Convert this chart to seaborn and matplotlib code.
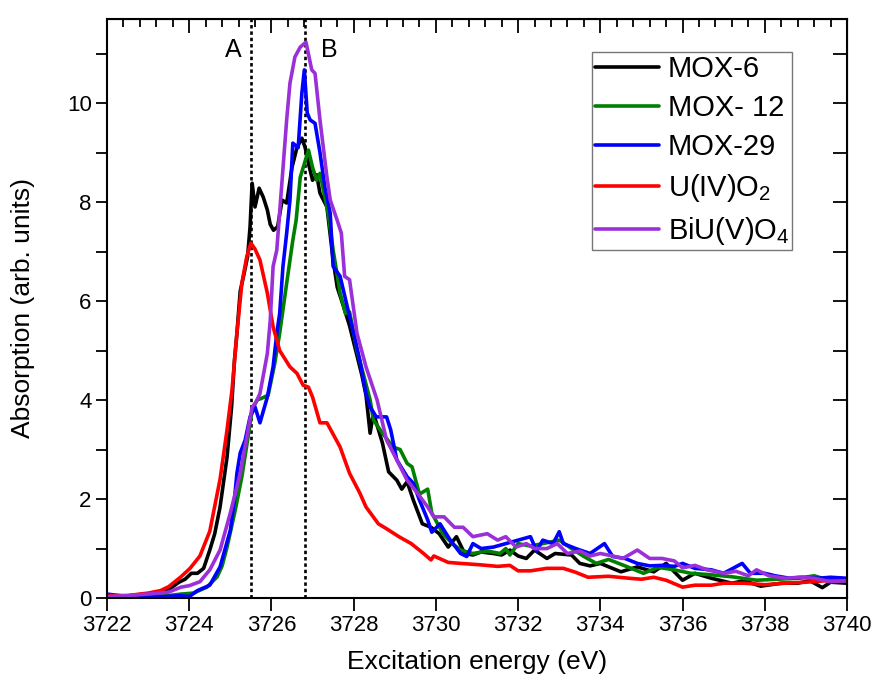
#bibliotecas
import pandas as pd
import matplotlib
matplotlib.use('Agg')
import matplotlib.pyplot as plt
from matplotlib.ticker import MultipleLocator, FuncFormatter
from matplotlib.lines import Line2D
import seaborn as sns

e_mox6 = [3722.0, 3722.4, 3722.8, 3723.2, 3723.5, 3723.75, 3723.9, 3724.05, 3724.2, 3724.35, 3724.5, 3724.62,
          3724.75, 3724.92, 3725.03, 3725.1, 3725.16, 3725.24, 3725.32, 3725.42, 3725.48, 3725.53, 3725.6, 3725.7,
          3725.8, 3725.9, 3725.97, 3726.05, 3726.15, 3726.26, 3726.37, 3726.5, 3726.62, 3726.74, 3726.82, 3726.9,
          3727.0, 3727.1, 3727.18, 3727.35, 3727.5, 3727.6, 3727.75, 3727.9, 3728.05, 3728.2, 3728.3, 3728.4,
          3728.48, 3728.7, 3728.85, 3729.05, 3729.17, 3729.3, 3729.45, 3729.67, 3729.88, 3730.08, 3730.3, 3730.5,
          3730.7, 3730.9, 3731.1, 3731.4, 3731.6, 3731.8, 3732.0, 3732.2, 3732.4, 3732.7, 3732.9, 3733.3, 3733.5,
          3733.75, 3734.0, 3734.5, 3734.9, 3735.3, 3735.6, 3736.0, 3736.3, 3736.7, 3737.2, 3737.5, 3737.9, 3738.4,
          3738.8, 3739.1, 3739.4, 3739.6, 3740.0]
a_mox6 = [0.05, 0.03, 0.07, 0.1, 0.17, 0.32, 0.38, 0.5, 0.5, 0.6, 0.97, 1.3,
          1.84, 2.85, 3.86, 4.8, 5.35, 6.2, 6.5, 6.9, 7.5, 8.38, 7.9, 8.28,
          8.1, 7.84, 7.55, 7.43, 7.5, 8.04, 7.98, 8.7, 9.1, 9.29, 9.1, 8.78,
          8.44, 8.55, 8.18, 7.9, 6.83, 6.28, 5.9, 5.5, 5.0, 4.5, 4.1, 3.33,
          3.74, 3.13, 2.55, 2.38, 2.2, 2.35, 1.98, 1.5, 1.43, 1.3, 1.03, 1.24,
          0.9, 0.87, 0.93, 0.9, 0.87, 0.97, 0.85, 0.8, 0.97, 0.8, 0.9, 0.87, 0.7,
          0.65, 0.7, 0.53, 0.63, 0.53, 0.7, 0.36, 0.5, 0.4, 0.3, 0.35, 0.24, 0.3,
          0.3, 0.35, 0.21, 0.32, 0.3]

e_mox12 = [3722.0, 3722.5, 3723.0, 3723.5, 3723.8, 3724.1, 3724.43, 3724.68, 3724.8, 3724.92, 3725.12, 3725.28,
           3725.43, 3725.53, 3725.65, 3725.8, 3725.92, 3726.08, 3726.2, 3726.37, 3726.52, 3726.6, 3726.7, 3726.9,
           3727.0, 3727.1, 3727.18, 3727.3, 3727.38, 3727.5, 3727.67, 3727.8, 3727.9, 3728.08, 3728.23, 3728.4,
           3728.48, 3728.7, 3728.96, 3729.13, 3729.3, 3729.42, 3729.6, 3729.8, 3729.9, 3730.17, 3730.4, 3730.6,
           3730.9, 3731.25, 3731.56, 3731.7, 3731.8, 3732.0, 3732.3, 3732.6, 3733.0, 3733.3, 3733.6, 3733.9,
           3734.2, 3734.6, 3735.05, 3735.4, 3735.8, 3736.2, 3736.7, 3737.2, 3737.8, 3738.3, 3738.85, 3739.2,
           3739.6, 3740.0]
a_mox12 = [0.02, 0.03, 0.02, 0.05, 0.08, 0.1, 0.22, 0.43, 0.65, 1.03, 1.78, 2.45,
           3.25, 3.8, 4.0, 4.05, 4.1, 4.74, 5.35, 6.36, 7.23, 7.63, 8.5, 9.05,
           8.7, 8.44, 8.58, 8.1, 7.77, 7.03, 6.16, 5.75, 5.78, 5.0, 4.54, 4.0,
           3.6, 3.33, 3.05, 3.0, 2.72, 2.65, 2.1, 2.2, 1.72, 1.3, 1.1, 0.97,
           0.9, 0.95, 0.9, 1.0, 0.87, 1.1, 1.05, 1.1, 1.17, 1.0, 0.84, 0.7,
           0.78, 0.65, 0.5, 0.62, 0.57, 0.5, 0.47, 0.43, 0.36, 0.38, 0.4, 0.45,
           0.35, 0.35]

e_mox29 = [3722.0, 3722.3, 3722.7, 3723.0, 3723.4, 3723.8, 3724.0, 3724.2, 3724.5, 3724.75, 3725.0, 3725.1,
           3725.16, 3725.24, 3725.36, 3725.48, 3725.6, 3725.72, 3725.9, 3726.04, 3726.13, 3726.2, 3726.28, 3726.37,
           3726.45, 3726.52, 3726.65, 3726.74, 3726.8, 3726.87, 3726.94, 3727.06, 3727.18, 3727.3, 3727.43, 3727.5,
           3727.67, 3727.84, 3728.0, 3728.15, 3728.3, 3728.4, 3728.55, 3728.8, 3728.9, 3729.05, 3729.3, 3729.45,
           3729.6, 3729.8, 3729.9, 3730.1, 3730.35, 3730.6, 3730.75, 3730.9, 3731.1, 3731.4, 3731.7, 3732.0,
           3732.3, 3732.45, 3732.6, 3732.85, 3733.0, 3733.1, 3733.4, 3733.75, 3734.1, 3734.3, 3734.6, 3734.9,
           3735.2, 3735.5, 3735.8, 3736.0, 3736.3, 3736.7, 3737.0, 3737.45, 3737.65, 3738.0, 3738.25, 3738.6,
           3738.9, 3739.3, 3739.6, 3740.0]
a_mox29 = [0.08, 0.05, 0.02, 0.05, 0.03, 0.05, 0.03, 0.15, 0.26, 0.63, 1.37, 2.0,
           2.52, 2.93, 3.19, 3.66, 3.86, 3.54, 4.06, 4.67, 5.35, 5.75, 6.7, 7.37,
           8.04, 9.19, 9.1, 10.2, 10.67, 9.8, 9.66, 9.59, 9.0, 8.3, 7.77, 6.7,
           6.5, 5.9, 5.35, 4.8, 4.13, 3.86, 3.66, 3.66, 3.4, 2.79, 2.45, 2.32,
           1.98, 1.58, 1.33, 1.5, 1.17, 0.9, 0.84, 1.1, 1.0, 1.03, 1.1, 1.17,
           1.24, 0.95, 1.17, 1.1, 1.34, 1.1, 1.0, 0.9, 1.1, 0.84, 0.8, 0.7,
           0.65, 0.66, 0.64, 0.7, 0.6, 0.57, 0.5, 0.7, 0.5, 0.5, 0.45, 0.4,
           0.42, 0.4, 0.42, 0.4]

e_uo2 = [3722.0, 3722.5, 3723.0, 3723.3, 3723.5, 3723.8, 3724.02, 3724.26, 3724.5, 3724.75, 3724.92, 3725.04,
         3725.16, 3725.28, 3725.4, 3725.5, 3725.6, 3725.72, 3725.9, 3726.04, 3726.2, 3726.45, 3726.62, 3726.77,
         3726.9, 3727.0, 3727.18, 3727.35, 3727.67, 3727.9, 3728.15, 3728.3, 3728.6, 3728.8, 3729.1, 3729.4,
         3729.7, 3729.88, 3729.95, 3730.3, 3730.6, 3731.1, 3731.5, 3731.8, 3732.0, 3732.3, 3732.7, 3733.1,
         3733.4, 3733.7, 3734.2, 3734.7, 3735.0, 3735.3, 3735.6, 3736.0, 3736.3, 3736.7, 3737.0, 3737.5,
         3738.0, 3738.5, 3739.0, 3739.5, 3740.0]
a_uo2 = [0.05, 0.05, 0.1, 0.15, 0.23, 0.43, 0.6, 0.85, 1.35, 2.4, 3.4, 4.2,
         5.35, 6.36, 6.9, 7.17, 7.05, 6.83, 6.16, 5.48, 5.0, 4.67, 4.54, 4.3,
         4.26, 4.06, 3.54, 3.54, 3.05, 2.52, 2.12, 1.84, 1.5, 1.4, 1.24, 1.1,
         0.9, 0.77, 0.85, 0.72, 0.7, 0.67, 0.64, 0.66, 0.55, 0.55, 0.6, 0.6,
         0.52, 0.42, 0.44, 0.4, 0.38, 0.42, 0.36, 0.22, 0.26, 0.26, 0.3, 0.3,
         0.27, 0.3, 0.32, 0.35, 0.35]

e_biuo4 = [3722.0, 3722.5, 3723.0, 3723.5, 3723.8, 3724.0, 3724.26, 3724.5, 3724.75, 3725.0, 3725.24, 3725.4,
           3725.53, 3725.62, 3725.72, 3725.9, 3725.97, 3726.04, 3726.13, 3726.2, 3726.37, 3726.45, 3726.57, 3726.7,
           3726.84, 3726.98, 3727.06, 3727.18, 3727.35, 3727.43, 3727.6, 3727.7, 3727.78, 3727.9, 3728.08, 3728.3,
           3728.57, 3728.8, 3729.05, 3729.3, 3729.55, 3729.8, 3729.95, 3730.2, 3730.45, 3730.66, 3730.9, 3731.25,
           3731.5, 3731.7, 3731.95, 3732.2, 3732.4, 3732.7, 3732.95, 3733.2, 3733.5, 3733.75, 3734.0, 3734.3,
           3734.55, 3734.9, 3735.2, 3735.5, 3735.8, 3736.0, 3736.3, 3736.6, 3737.0, 3737.3, 3737.6, 3737.8,
           3738.1, 3738.5, 3738.85, 3739.2, 3739.6, 3740.0]
a_biuo4 = [0.03, 0.05, 0.08, 0.12, 0.22, 0.25, 0.33, 0.57, 0.97, 1.72, 2.52, 3.25,
           3.86, 3.95, 4.13, 4.94, 5.6, 6.7, 7.03, 7.8, 9.66, 10.4, 10.93, 11.13,
           11.23, 10.67, 10.6, 9.66, 8.5, 8.04, 7.63, 7.37, 6.5, 6.43, 5.35, 4.67,
           4.0, 3.19, 2.79, 2.38, 2.12, 1.84, 1.64, 1.64, 1.43, 1.43, 1.24, 1.3,
           1.17, 1.24, 1.03, 1.1, 1.0, 1.0, 1.1, 0.9, 0.95, 0.85, 0.9, 0.85,
           0.8, 0.97, 0.8, 0.8, 0.75, 0.61, 0.66, 0.57, 0.5, 0.54, 0.45, 0.57,
           0.45, 0.4, 0.42, 0.4, 0.33, 0.35]

nomes = ['MOX-6', 'MOX- 12', 'MOX-29', 'U(IV)O$_2$', 'BiU(V)O$_4$']
cores = ['#000000', '#008000', '#0000ff', '#ff0000', '#9b30d9']
linhas_ab = [3725.5, 3726.82]
rotulos_ab = ['A', 'B']
pos_rotulos_ab = [(3725.07, 11.07), (3727.4, 11.07)]

#estilo
sns.set_style('white')
plt.rcParams['font.family'] = ['Liberation Sans', 'DejaVu Sans']
plt.rcParams['mathtext.fontset'] = 'custom'
plt.rcParams['mathtext.rm'] = 'Liberation Sans'
plt.rcParams['mathtext.default'] = 'rm'
for k in ['text.color', 'axes.labelcolor', 'xtick.color', 'ytick.color', 'axes.edgecolor']:
    plt.rcParams[k] = 'black'

#montar dataframe longo
series = [e_mox6, e_mox12, e_mox29, e_uo2, e_biuo4]
valores = [a_mox6, a_mox12, a_mox29, a_uo2, a_biuo4]
frames = []
for nome, e, a in zip(nomes, series, valores):
    frames.append(pd.DataFrame({'energia': e, 'absorcao': a, 'amostra': nome}))
df = pd.concat(frames, ignore_index=True)

fig = plt.figure(figsize=(8.75, 6.75), dpi=100)
ax = fig.add_axes([0.1223, 0.114, 0.8457, 0.858])

sns.lineplot(data=df, x='energia', y='absorcao', hue='amostra', hue_order=nomes,
             palette=dict(zip(nomes, cores)), estimator=None, sort=False,
             linewidth=2.6, legend=False, ax=ax)

#linhas pontilhadas A e B
for xl in linhas_ab:
    ax.axvline(xl, color='k', linestyle=(0, (1.3, 1.1)), linewidth=1.9, zorder=1)
for txt, (xt, yt) in zip(rotulos_ab, pos_rotulos_ab):
    ax.text(xt, yt, txt, ha='center', va='center', fontsize=18)

#eixos
ax.set_xlim(3722, 3740)
ax.set_ylim(0, 11.7)
ax.xaxis.set_major_locator(MultipleLocator(2))
ax.xaxis.set_minor_locator(MultipleLocator(0.4))
ax.yaxis.set_major_locator(MultipleLocator(1))
ax.yaxis.set_major_formatter(FuncFormatter(lambda v, p: '%d' % v if int(round(v)) % 2 == 0 else ''))
ax.tick_params(axis='x', which='major', direction='out', length=9, width=1.3, labelsize=16, pad=3)
ax.tick_params(axis='x', which='minor', direction='out', length=5, width=1.3)
ax.tick_params(axis='y', which='major', direction='out', length=8, width=1.3, labelsize=16, pad=3)
ax.tick_params(left=True, bottom=True, top=False, right=False)

#ticks internos em cima e a direita
topo = ax.secondary_xaxis('top')
topo.xaxis.set_major_locator(MultipleLocator(2))
topo.xaxis.set_minor_locator(MultipleLocator(0.4))
topo.tick_params(axis='x', which='major', direction='in', length=10, width=1.3, labeltop=False)
topo.tick_params(axis='x', which='minor', direction='in', length=6, width=1.3)
direita = ax.secondary_yaxis('right')
direita.yaxis.set_major_locator(MultipleLocator(1))
direita.tick_params(axis='y', which='major', direction='in', length=10, width=1.3, labelright=False)
direita.yaxis.set_minor_locator(MultipleLocator(100))

for s in ax.spines.values():
    s.set_linewidth(1.5)
    s.set_color('k')

ax.set_xlabel('Excitation energy (eV)', fontsize=19)
ax.set_ylabel('Absorption (arb. units)', fontsize=19)
ax.xaxis.set_label_coords(0.5, -0.09)
ax.yaxis.set_label_coords(-0.097, 0.5)

#legenda
handles = [Line2D([], [], color=c, linewidth=2.6) for c in cores]
leg = ax.legend(handles, nomes, loc='upper right', bbox_to_anchor=(0.926, 0.943), borderaxespad=0,
                fontsize=21, frameon=True, fancybox=False, handlelength=2.2, handletextpad=0.3,
                borderpad=0.1, labelspacing=0.38)
leg.get_frame().set_edgecolor('#555555')
leg.get_frame().set_linewidth(1.0)

plt.savefig('out.png', dpi=100)
